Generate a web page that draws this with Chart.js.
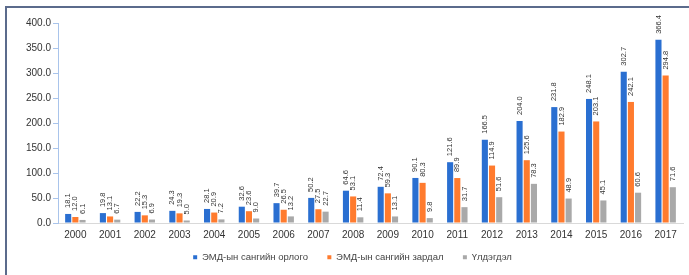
<!DOCTYPE html>
<html>
<head>
<meta charset="utf-8">
<script src="https://cdn.jsdelivr.net/npm/chart.js@4.4.1/dist/chart.umd.min.js"></script>
<style>
  html, body { margin: 0; padding: 0; background: #fff; }
  #wrap { width: 689px; height: 275px; position: relative; }
</style>
</head>
<body>
<div id="wrap"><canvas id="fund-chart" width="689" height="275"></canvas></div>
<script>
const years = ['2000', '2001', '2002', '2003', '2004', '2005', '2006', '2007', '2008',
  '2009', '2010', '2011', '2012', '2013', '2014', '2015', '2016', '2017'];
const income = [18.1, 19.8, 22.2, 24.3, 28.1, 32.6, 39.7, 50.2, 64.6,
  72.4, 90.1, 121.6, 166.5, 204.0, 231.8, 248.1, 302.7, 366.4];
const expense = [12.0, 13.1, 15.3, 19.3, 20.9, 23.6, 26.5, 27.5, 53.1,
  59.3, 80.3, 89.9, 114.9, 125.6, 182.9, 203.1, 242.1, 294.8];
const balance = [6.1, 6.7, 6.9, 5.0, 7.2, 9.0, 13.2, 22.7, 11.4,
  13.1, 9.8, 31.7, 51.6, 78.3, 48.9, 45.1, 60.6, 71.6];
const seriesNames = ['ЭМД-ын сангийн орлого', 'ЭМД-ын сангийн зардал', 'Үлдэгдэл'];
const yTicks = [0, 50, 100, 150, 200, 250, 300, 350, 400];

const fontFamily = '"Liberation Sans", Arial, sans-serif';

// frame lines on left and top like the source slide
const framePlugin = {
  id: 'frame',
  beforeDraw(chart) {
    const c = chart.ctx;
    c.save();
    c.strokeStyle = '#5b6b8c';
    c.lineWidth = 2;
    c.beginPath();
    c.moveTo(6, 275);
    c.lineTo(6, 7);
    c.lineTo(689, 7);
    c.stroke();
    c.restore();
  }
};

// rotated value labels above every bar
const valueLabels = {
  id: 'valueLabels',
  afterDatasetsDraw(chart) {
    const c = chart.ctx;
    c.save();
    c.fillStyle = '#333';
    c.font = '7.5px ' + fontFamily;
    c.textAlign = 'left';
    c.textBaseline = 'middle';
    chart.data.datasets.forEach((ds, i) => {
      chart.getDatasetMeta(i).data.forEach((bar, j) => {
        c.save();
        c.translate(bar.x, bar.y - 6);
        c.rotate(-Math.PI / 2);
        c.fillText(ds.data[j].toFixed(1), 0, 0);
        c.restore();
      });
    });
    c.restore();
  }
};

const ctx = document.getElementById('fund-chart');
const chart = new Chart(ctx, {
  type: 'bar',
  data: {
    labels: years,
    datasets: [
      { label: seriesNames[0], data: income, backgroundColor: '#2a6fd1' },
      { label: seriesNames[1], data: expense, backgroundColor: '#ff7b2e' },
      { label: seriesNames[2], data: balance, backgroundColor: '#a9a9a9' }
    ]
  },
  options: {
    responsive: false,
    animation: false,
    devicePixelRatio: 1,
    categoryPercentage: 0.62,
    barPercentage: 0.85,
    layout: { padding: { left: 22, right: 6, top: 23, bottom: 3 } },
    plugins: {
      tooltip: { enabled: false },
      legend: {
        position: 'bottom',
        labels: {
          color: '#444',
          font: { family: fontFamily, size: 9.5 },
          boxWidth: 4,
          boxHeight: 4,
          padding: 11.5,
          generateLabels(chart) {
            const items = Chart.defaults.plugins.legend.labels.generateLabels(chart);
            // extra room between the entries
            items.forEach((it, i) => { if (i < items.length - 1) it.text += '   '; });
            return items;
          }
        }
      }
    },
    scales: {
      x: {
        grid: { display: false, drawTicks: false },
        border: { color: '#d9d9d9' },
        ticks: { color: '#333', font: { family: fontFamily, size: 10 }, padding: 6, maxRotation: 0 },
        afterFit(scale) { scale.height = 18; }
      },
      y: {
        min: 0,
        max: 400,
        afterBuildTicks(scale) { scale.ticks = yTicks.map(v => ({ value: v })); },
        grid: { drawOnChartArea: false, drawTicks: true, tickLength: 5, color: '#a9c4eb' },
        border: { color: '#a9c4eb' },
        ticks: {
          color: '#333',
          font: { family: fontFamily, size: 10 },
          padding: 2,
          callback: v => v.toFixed(1)
        },
        afterFit(scale) { scale.width = 36; }
      }
    }
  },
  plugins: [framePlugin, valueLabels]
});
</script>
</body>
</html>
